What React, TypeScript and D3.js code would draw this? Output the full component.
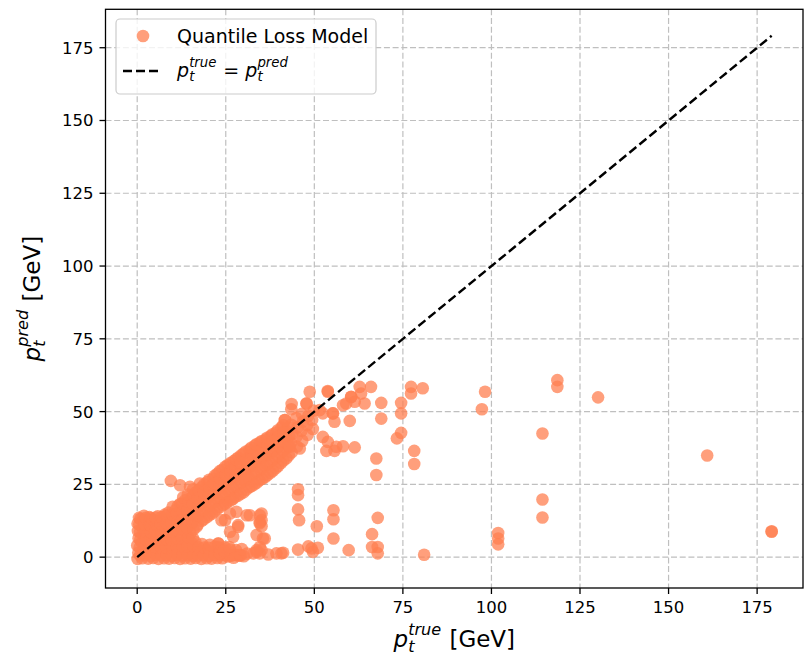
import React from "react";
import * as d3 from "d3";

// ---------- data ----------
const xTicks = [0, 25, 50, 75, 100, 125, 150, 175];
const yTicks = [0, 25, 50, 75, 100, 125, 150, 175];
const xDomain: [number, number] = [-8.95, 187.95];
const yDomain: [number, number] = [-10.6, 188.2];
const identityRange: [number, number] = [0, 179.1];
const seriesName = "Quantile Loss Model";

// [p_t true, p_t pred]
const coreCluster: [number, number][] = [
  [0.1, -0.6], [0.3, 1.5], [0.0, 4.0], [0.4, 6.5], [0.2, 9.0], [0.1, 11.5], [0.5, 13.5],
  [1.4, -0.4], [1.6, 2.2], [1.3, 5.0], [1.8, 7.5], [1.5, 10.0], [1.7, 12.6], [1.9, 14.2],
  [3.1, -0.5], [2.9, 2.0], [3.2, 4.6], [3.0, 7.2], [3.3, 9.8], [2.8, 12.3], [3.4, 13.8],
  [4.5, -0.3], [4.7, 2.4], [4.4, 5.1], [4.6, 7.7], [4.9, 10.3], [4.3, 12.8],
  [6.0, -0.6], [6.2, 2.1], [5.9, 4.8], [6.3, 7.4], [6.1, 10.0], [6.4, 12.6], [5.8, 14.0],
  [7.6, -0.4], [7.4, 2.3], [7.7, 5.0], [7.5, 7.7], [7.9, 10.4], [7.3, 13.0], [7.8, 14.6],
  [9.0, -0.5], [9.2, 2.0], [8.9, 4.7], [9.3, 7.4], [9.1, 10.1], [9.4, 12.8], [8.8, 15.3],
  [10.6, -0.3], [10.4, 2.4], [10.7, 5.2], [10.3, 8.0], [10.8, 10.7], [10.5, 13.5], [10.9, 16.2],
  [12.1, -0.6], [11.9, 2.2], [12.3, 5.0], [12.0, 7.8], [12.2, 10.6], [11.8, 13.4], [12.4, 16.0], [12.1, 18.3],
  [13.5, -0.4], [13.7, 2.5], [13.4, 5.3], [13.8, 8.4], [13.6, 11.4], [13.3, 14.2], [13.9, 17.0], [13.5, 19.5],
  [15.1, -0.5], [14.9, 2.1], [15.3, 5.0], [15.0, 8.2], [15.4, 11.5], [15.2, 14.6], [14.8, 17.5], [15.3, 20.4],
  [16.5, -0.3], [16.7, 2.4], [16.4, 5.2], [16.8, 10.5], [16.6, 13.8], [16.3, 16.8], [16.9, 19.6], [16.5, 22.2],
  [9.5, 26.2], [12.1, 24.7], [14.9, 24.2], [17.7, 25.3],
];

const coreFill: [number, number][] = [
  [0.8, 0.6], [0.7, 3.3], [0.9, 5.9], [0.8, 8.6], [0.6, 11.2], [0.9, 13.2],
  [2.3, 0.7], [2.2, 3.5], [2.5, 6.1], [2.3, 8.7], [2.1, 11.3], [2.4, 13.5],
  [3.8, 0.5], [3.9, 3.2], [3.7, 5.9], [3.9, 8.5], [3.6, 11.1], [3.9, 13.4],
  [5.3, 0.8], [5.2, 3.5], [5.4, 6.2], [5.1, 8.8], [5.4, 11.4], [5.2, 13.6],
  [6.8, 0.6], [6.9, 3.3], [6.7, 6.0], [6.9, 8.7], [6.6, 11.5], [6.9, 13.8],
  [8.3, 0.7], [8.2, 3.4], [8.4, 6.1], [8.1, 8.9], [8.4, 11.6], [8.2, 14.2],
  [9.8, 0.5], [9.9, 3.2], [9.7, 6.0], [9.9, 8.8], [9.6, 11.8], [9.9, 14.6], [10.0, 17.3],
  [11.3, 0.8], [11.2, 3.6], [11.4, 6.4], [11.1, 9.3], [11.4, 12.2], [11.2, 15.0], [11.5, 17.6],
  [12.8, 0.6], [12.9, 3.6], [12.7, 6.6], [12.9, 9.6], [12.6, 12.6], [12.9, 15.5], [12.7, 18.4], [13.0, 20.6],
  [14.3, 0.7], [14.2, 3.7], [14.4, 6.8], [14.1, 9.9], [14.4, 13.0], [14.2, 16.0], [14.5, 18.9], [14.3, 21.5],
  [15.8, 0.5], [15.9, 3.6], [15.7, 6.6], [15.9, 9.5], [15.6, 12.4], [15.9, 15.4], [15.7, 18.3], [16.0, 21.0], [15.8, 23.3],
];

const diagonalBand: [number, number][] = [
  [18.1, -0.6], [17.9, 2.2], [18.3, 4.5], [18.2, 12.5], [18.0, 15.6], [18.4, 18.6], [17.9, 21.5], [18.2, 24.0],
  [19.6, -0.4], [19.4, 2.4], [19.7, 13.8], [19.5, 17.0], [19.9, 20.2], [19.3, 23.2], [19.8, 25.8],
  [21.0, -0.5], [21.2, 2.0], [21.1, 15.0], [20.9, 18.5], [21.3, 21.6], [21.0, 24.6], [21.4, 27.0],
  [22.6, -0.3], [22.9, 4.7], [22.5, 16.5], [22.7, 19.8], [22.4, 23.0], [22.8, 26.2], [22.6, 28.6],
  [24.0, -0.4], [24.2, 18.0], [24.1, 21.3], [23.9, 24.5], [24.3, 27.6], [24.0, 30.0],
  [25.6, 0.2], [25.5, 19.0], [25.7, 22.6], [25.4, 26.0], [25.8, 29.0], [25.5, 31.6],
  [27.2, -0.2], [27.0, 20.0], [27.1, 23.8], [27.3, 27.2], [26.9, 30.3], [27.2, 33.0],
  [28.6, 0.5], [28.5, 21.2], [28.8, 25.0], [28.4, 28.6], [28.7, 31.8], [28.5, 34.2],
  [30.1, 0.3], [30.0, 22.3], [30.3, 26.2], [29.9, 29.8], [30.2, 33.0], [30.0, 35.6],
  [31.6, 24.0], [31.4, 27.5], [31.8, 31.0], [31.5, 34.2], [31.7, 37.0],
  [33.1, 25.0], [33.0, 28.7], [33.3, 32.3], [32.9, 35.5], [33.2, 38.3],
  [34.5, 26.4], [34.8, 30.0], [34.4, 33.6], [34.7, 36.8], [34.6, 39.4],
  [36.1, 27.5], [36.0, 31.2], [36.3, 34.8], [35.9, 38.0], [36.2, 40.4],
  [37.6, 29.0], [37.4, 32.5], [37.8, 36.0], [37.5, 39.2], [37.7, 41.6],
  [39.1, 30.5], [39.0, 34.0], [39.3, 37.4], [38.9, 40.6], [39.2, 42.8],
  [40.6, 32.3], [40.4, 35.6], [40.8, 39.0], [40.5, 42.0], [40.7, 44.5],
  [42.1, 34.0], [42.0, 37.4], [42.3, 40.6], [41.9, 43.6], [41.7, 47.1],
  [43.6, 36.0], [43.4, 39.2], [43.8, 42.4], [43.5, 45.5], [43.6, 52.6], [43.5, 50.8],
  [45.1, 38.0], [45.0, 41.4], [45.3, 44.6], [44.9, 47.8], [45.9, 37.3],
  [46.6, 40.0], [46.4, 43.4], [46.8, 46.6], [46.5, 49.2],
  [48.1, 42.0], [48.0, 45.4], [47.8, 52.8], [48.7, 56.8], [48.3, 48.6],
  [49.6, 44.0], [49.4, 47.2], [49.8, 50.4],
];

const bandFill: [number, number][] = [
  [17.2, 0.6], [17.3, 3.4], [17.1, 11.2], [17.3, 14.3], [17.2, 17.3], [17.1, 20.3], [17.4, 23.0],
  [18.8, 0.7], [18.9, 3.3], [18.8, 13.0], [18.7, 16.2], [18.9, 19.3], [18.8, 22.3], [18.9, 25.0],
  [20.3, 0.5], [20.2, 3.2], [20.4, 14.5], [20.3, 17.7], [20.2, 20.9], [20.4, 24.0], [20.3, 26.6],
  [21.8, 0.8], [21.9, 3.6], [21.7, 15.7], [21.9, 19.0], [21.8, 22.2], [21.7, 25.4], [21.9, 28.0],
  [23.3, 0.6], [23.2, 3.0], [23.4, 17.2], [23.3, 20.5], [23.2, 23.8], [23.4, 27.0], [23.3, 29.5],
  [24.8, 0.7], [24.7, 3.4], [24.9, 18.4], [24.8, 21.8], [24.7, 25.2], [24.9, 28.4], [24.8, 31.0],
  [26.3, 0.5], [26.2, 2.6], [26.4, 19.5], [26.3, 23.0], [26.2, 26.6], [26.4, 29.8], [26.3, 32.3],
  [27.8, 0.8], [27.9, 2.4], [27.7, 20.7], [27.9, 24.3], [27.8, 27.9], [27.7, 31.2], [27.9, 33.6],
  [29.3, 0.6], [29.2, 21.8], [29.4, 25.6], [29.3, 29.2], [29.2, 32.5], [29.4, 35.0],
  [30.8, 23.2], [30.7, 26.9], [30.9, 30.4], [30.8, 33.7], [30.7, 36.3],
  [32.3, 24.4], [32.2, 28.1], [32.4, 31.6], [32.3, 35.0], [32.2, 37.6],
  [33.8, 25.6], [33.7, 29.3], [33.9, 33.0], [33.8, 36.2], [33.7, 38.8],
  [35.3, 26.9], [35.2, 30.6], [35.4, 34.2], [35.3, 37.4], [35.2, 39.9],
  [36.8, 28.2], [36.7, 31.9], [36.9, 35.4], [36.8, 38.6], [36.7, 41.0],
  [38.3, 29.7], [38.2, 33.3], [38.4, 36.7], [38.3, 39.9], [38.2, 42.2],
  [39.8, 31.3], [39.7, 34.8], [39.9, 38.2], [39.8, 41.3], [39.7, 43.6],
  [41.3, 33.2], [41.2, 36.5], [41.4, 39.8], [41.3, 42.8], [41.2, 45.3],
  [42.8, 35.0], [42.7, 38.3], [42.9, 41.5], [42.8, 44.5],
];

const lowScatter: [number, number][] = [
  [23.8, 12.7], [26.2, 15.0], [28.0, 15.6], [28.5, 11.0], [26.2, 8.7], [27.1, 7.0], [22.9, 4.7], [23.4, 1.3],
  [31.8, 14.4], [34.6, 14.4], [34.6, 11.6], [33.7, 7.6], [35.5, 6.4], [39.3, 1.3], [33.7, 1.8],
  [30.9, 14.4], [35.1, 12.7], [24.8, 12.7], [28.5, 10.4], [22.9, 3.5], [27.1, 0.7], [29.0, 0.7],
  [32.8, 1.3], [34.6, 1.3], [40.7, 1.3], [35.1, 15.0], [34.6, 12.1], [35.1, 10.6], [36.0, 6.4],
  [34.6, 3.5], [35.1, 2.4], [41.2, 1.5], [20.5, 4.2], [24.5, 2.3], [26.0, 3.5], [29.5, 2.8],
  [31.0, 1.2], [37.0, 0.9],
  [45.4, 23.3], [45.4, 21.3], [45.4, 16.4], [45.7, 12.7], [45.4, 2.6], [49.2, 3.0], [51.0, 3.2],
  [49.6, 1.8], [50.7, 10.6], [48.3, 3.7],
  [55.4, 16.1], [55.4, 13.0], [55.4, 6.4], [59.7, 2.4], [67.9, 13.5], [66.3, 7.9], [66.3, 3.5],
  [67.9, 3.5], [67.9, 1.3], [81.0, 0.8], [33.7, 2.4],
];

const upperScatter: [number, number][] = [
  [53.8, 56.8], [62.8, 58.5], [66.0, 58.5], [63.2, 56.2], [60.4, 55.1], [64.2, 52.8], [61.4, 53.4],
  [58.1, 52.2], [55.3, 49.4], [52.4, 49.4], [55.7, 46.5], [60.0, 46.8], [68.9, 53.0], [68.9, 47.6],
  [74.5, 53.0], [74.5, 49.4], [77.3, 58.5], [77.3, 56.2], [80.6, 58.0], [74.5, 42.7], [73.3, 40.8],
  [78.2, 36.5], [78.2, 32.0], [67.5, 33.9], [67.5, 28.2], [52.4, 41.3], [53.8, 39.6], [56.2, 37.9],
  [58.1, 38.1], [61.4, 37.7], [53.4, 36.5], [55.7, 36.5], [51.5, 50.5], [53.8, 57.1], [59.0, 52.8],
  [60.4, 55.0], [55.2, 49.4], [43.0, 37.9], [41.7, 47.1], [47.8, 52.8],
];

const farOutliers: [number, number][] = [
  [98.2, 56.8], [97.3, 50.8], [114.4, 42.5], [118.6, 60.8], [118.6, 58.5], [130.1, 54.9],
  [114.4, 19.8], [114.4, 13.6], [101.9, 8.3], [101.9, 6.4], [101.9, 4.4], [160.9, 34.9],
  [179.1, 8.7], [179.1, 8.9],
];

// ---------- layout ----------
const W = 804;
const H = 660;
const FONT = "DejaVu Sans";
const POINT_COLOR = "#FF7F50";
const left = 105.5, right = 803, top = 9.3, bottom = 588;

const x = d3.scaleLinear().domain(xDomain).range([left, right]);
const y = d3.scaleLinear().domain(yDomain).range([bottom, top]);

const CW: Record<string, number> = {
  p: 0.635, t: 0.392, r: 0.411, u: 0.634, e: 0.615, d: 0.635, " ": 0.318, "=": 0.838,
  "[": 0.39, "]": 0.39, G: 0.775, V: 0.684,
};
const tw = (s: string) => s.split("").reduce((a, c) => a + (CW[c] ?? 0.6), 0);

type Part = { kind: "var"; sup: string } | { kind: "text"; text: string };

function MathText({ parts, size, anchor = "start" }: { parts: Part[]; size: number; anchor?: string }) {
  let cursor = 0;
  const els: React.ReactNode[] = [];
  parts.forEach((p, i) => {
    if (p.kind === "var") {
      els.push(
        <text key={i + "p"} x={cursor} y={0} fontStyle="italic" fontSize={size}>p</text>
      );
      const sx = cursor + 0.64 * size;
      els.push(
        <text key={i + "s"} x={sx} y={0.23 * size} fontStyle="italic" fontSize={0.7 * size}>t</text>
      );
      els.push(
        <text key={i + "u"} x={sx} y={-0.52 * size} fontStyle="italic" fontSize={0.7 * size}>{p.sup}</text>
      );
      cursor = sx + Math.max(tw("t"), tw(p.sup)) * 0.7 * size + 0.04 * size;
    } else {
      els.push(
        <text key={i + "t"} x={cursor} y={0} fontSize={size} style={{ whiteSpace: "pre" }}>{p.text}</text>
      );
      cursor += tw(p.text) * size;
    }
  });
  const off = anchor === "middle" ? -cursor / 2 : 0;
  return <g transform={`translate(${off},0)`} fill="#000">{els}</g>;
}

export default function App() {
  const all = [coreCluster, coreFill, diagonalBand, bandFill, lowScatter, upperScatter, farOutliers];
  const lineGen = d3.line<number>().x((v) => x(v)).y((v) => y(v));
  return (
    <svg
      width={W}
      height={H}
      style={{ position: "absolute", left: 0, top: 0, background: "#fff" }}
      fontFamily={FONT}
    >
      <defs>
        <clipPath id="plotClip">
          <rect x={left} y={top} width={right - left} height={bottom - top} />
        </clipPath>
      </defs>
      {/* grid */}
      <g stroke="#bfbfbf" strokeWidth={1.2} strokeDasharray="6,2.7">
        {xTicks.map((t) => (
          <line key={"gx" + t} x1={x(t)} x2={x(t)} y1={top} y2={bottom} />
        ))}
        {yTicks.map((t) => (
          <line key={"gy" + t} x1={left} x2={right} y1={y(t)} y2={y(t)} />
        ))}
      </g>
      {/* points */}
      <g clipPath="url(#plotClip)">
        {all.map((grp, gi) =>
          grp.map((d, i) => (
            <circle
              key={gi + "-" + i}
              cx={x(d[0])}
              cy={y(d[1])}
              r={6.3}
              fill={POINT_COLOR}
              fillOpacity={0.75}
            />
          ))
        )}
        <path
          d={lineGen(identityRange) || ""}
          stroke="#000"
          strokeWidth={2.4}
          strokeDasharray="9,4"
          fill="none"
        />
      </g>
      {/* frame */}
      <rect x={left} y={top} width={right - left} height={bottom - top} fill="none" stroke="#000" strokeWidth={1.3} />
      {/* ticks */}
      <g fontSize={16.5} fill="#000">
        {xTicks.map((t) => (
          <g key={"xt" + t}>
            <line x1={x(t)} x2={x(t)} y1={bottom} y2={bottom + 6} stroke="#000" strokeWidth={1.3} />
            <text x={x(t)} y={bottom + 24.5} textAnchor="middle">{t}</text>
          </g>
        ))}
        {yTicks.map((t) => (
          <g key={"yt" + t}>
            <line x1={left - 6} x2={left} y1={y(t)} y2={y(t)} stroke="#000" strokeWidth={1.3} />
            <text x={left - 12} y={y(t)} dy="0.36em" textAnchor="end">{t}</text>
          </g>
        ))}
      </g>
      {/* axis labels */}
      <g transform={`translate(${(left + right) / 2},647)`}>
        <MathText
          size={23}
          anchor="middle"
          parts={[{ kind: "var", sup: "true" }, { kind: "text", text: " [GeV]" }]}
        />
      </g>
      <g transform={`translate(40,${(top + bottom) / 2}) rotate(-90)`}>
        <MathText
          size={23}
          anchor="middle"
          parts={[{ kind: "var", sup: "pred" }, { kind: "text", text: " [GeV]" }]}
        />
      </g>
      {/* legend */}
      <g>
        <rect x={116} y={19} width={260} height={75} rx={4} fill="#fff" fillOpacity={0.8} stroke="#cccccc" strokeWidth={1.2} />
        <circle cx={143} cy={36} r={6.3} fill={POINT_COLOR} fillOpacity={0.75} />
        <text x={177} y={42.5} fontSize={19} fill="#000">{seriesName}</text>
        <line x1={123} x2={162} y1={71} y2={71} stroke="#000" strokeWidth={2.4} strokeDasharray="9,4" />
        <g transform="translate(177,77)">
          <MathText
            size={19}
            parts={[
              { kind: "var", sup: "true" },
              { kind: "text", text: " = " },
              { kind: "var", sup: "pred" },
            ]}
          />
        </g>
      </g>
    </svg>
  );
}
